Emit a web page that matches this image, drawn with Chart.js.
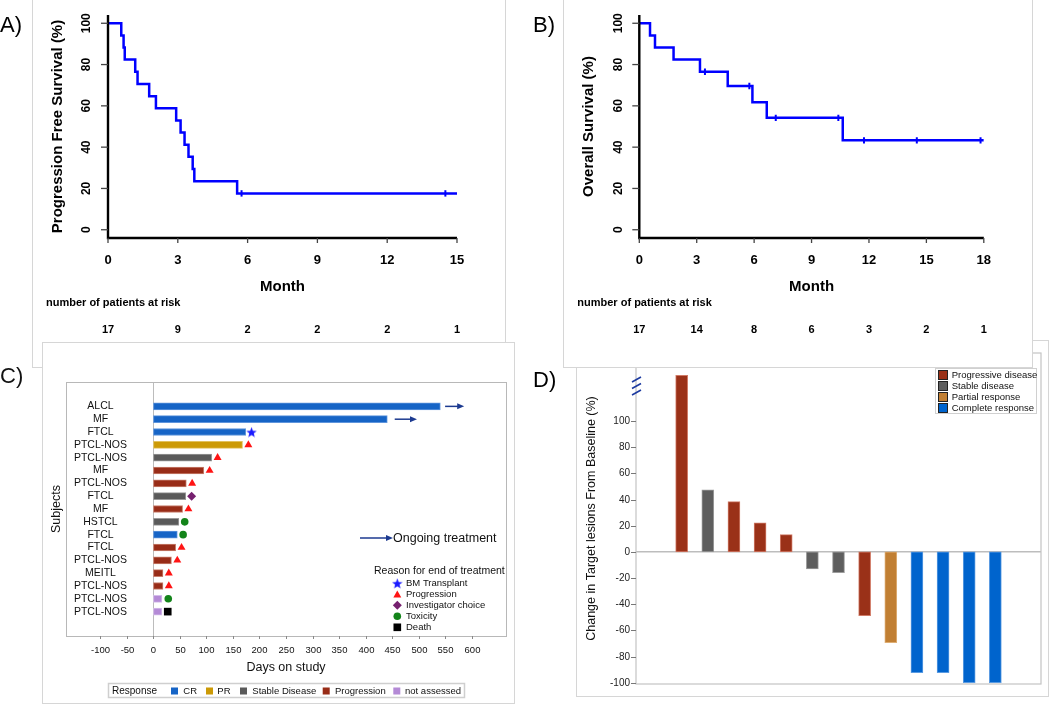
<!DOCTYPE html>
<html>
<head>
<meta charset="utf-8">
<script src="https://cdn.jsdelivr.net/npm/chart.js@4.4.1/dist/chart.umd.min.js"></script>
<style>
  body { margin: 0; background: #fff; }
  #wrap { position: relative; width: 1050px; height: 706px; overflow: hidden; }
  .box { position: absolute; border: 1px solid #d6d6d6; background: #fff; box-sizing: border-box; }
  canvas { position: absolute; left: 0; top: 0; }
</style>
</head>
<body>
<div id="wrap">
  <div class="box" style="left:32px;top:-2px;width:474px;height:370px;z-index:1"></div>
  <canvas id="pfs" width="1050" height="706" style="z-index:2"></canvas>
  <div class="box" style="left:42px;top:342px;width:473px;height:362px;z-index:3"></div>
  <canvas id="swim" width="1050" height="706" style="z-index:4"></canvas>
  <div class="box" style="left:576px;top:340px;width:473px;height:357px;z-index:5"></div>
  <canvas id="waterfall" width="1050" height="706" style="z-index:6"></canvas>
  <div class="box" style="left:563px;top:-2px;width:470px;height:370px;z-index:7"></div>
  <canvas id="os" width="1050" height="706" style="z-index:8"></canvas>
</div>
<script>
// --- data: A) progression free survival ---
const pfsMonths   = [0, 0.57, 0.67, 0.72, 1.17, 1.27, 1.77, 2.06, 2.93, 3.12, 3.29, 3.46, 3.64, 3.71, 5.55, 15];
const pfsSurvival = [100, 94.1, 88.2, 82.4, 76.5, 70.6, 64.7, 58.8, 52.9, 47.1, 41.2, 35.3, 29.4, 23.5, 17.6, 17.6];
const pfsCensorMonths   = [5.74, 14.5];
const pfsCensorSurvival = [17.6, 17.6];
const pfsRiskMonths = [0, 3, 6, 9, 12, 15];
const pfsAtRisk     = [17, 9, 2, 2, 2, 1];

// --- data: B) overall survival ---
const osMonths   = [0, 0.56, 0.82, 1.79, 3.17, 4.62, 5.91, 6.66, 10.63, 18];
const osSurvival = [100, 94.1, 88.2, 82.4, 76.5, 69.6, 61.8, 54.2, 43.3, 43.3];
const osCensorMonths   = [3.43, 5.75, 7.13, 10.4, 11.74, 14.5, 17.83];
const osCensorSurvival = [76.5, 69.6, 54.2, 54.2, 43.3, 43.3, 43.3];
const osRiskMonths = [0, 3, 6, 9, 12, 15, 18];
const osAtRisk     = [17, 14, 8, 6, 3, 2, 1];

const survivalTicks = [0, 20, 40, 60, 80, 100];

// --- data: C) swimmer plot ---
const subjects = ['ALCL', 'MF', 'FTCL', 'PTCL-NOS', 'PTCL-NOS', 'MF', 'PTCL-NOS', 'FTCL', 'MF',
                  'HSTCL', 'FTCL', 'FTCL', 'PTCL-NOS', 'MEITL', 'PTCL-NOS', 'PTCL-NOS', 'PTCL-NOS'];
const daysOnStudy = [541, 441, 174, 168, 110, 95, 62, 61, 55, 48, 45, 42, 34, 18, 18, 16, 16];
const responses   = ['CR', 'CR', 'CR', 'PR', 'SD', 'PD', 'PD', 'SD', 'PD', 'SD', 'CR', 'PD', 'PD', 'PD', 'PD', 'NA', 'NA'];
const endReasons  = [null, null, 'BM Transplant', 'Progression', 'Progression', 'Progression', 'Progression',
                     'Investigator choice', 'Progression', 'Toxicity', 'Toxicity', 'Progression', 'Progression',
                     'Progression', 'Progression', 'Toxicity', 'Death'];
const endDays     = [null, null, 185, 179, 121, 106, 73, 72, 66, 59, 56, 53, 45, 29, 29, 28, 27];
const ongoingRows = [0, 1];
const ongoingFrom = [550, 455];
const ongoingTo   = [586, 497];
const dayTicks = [-100, -50, 0, 50, 100, 150, 200, 250, 300, 350, 400, 450, 500, 550, 600];
const responseKeys   = ['CR', 'PR', 'SD', 'PD', 'NA'];
const responseLabels = ['CR', 'PR', 'Stable Disease', 'Progression', 'not assessed'];
const reasonLabels   = ['BM Transplant', 'Progression', 'Investigator choice', 'Toxicity', 'Death'];

// --- data: D) waterfall (first bar shown at its broken-axis height) ---
const lesionChange   = [135, 47.5, 38.4, 22.1, 13.2, -13, -16, -48.8, -69.4, -92.3, -92.3, -100, -100];
const lesionResponse = ['PD', 'SD', 'PD', 'PD', 'PD', 'SD', 'SD', 'PD', 'PR', 'CR', 'CR', 'CR', 'CR'];
const changeTicks = [-100, -80, -60, -40, -20, 0, 20, 40, 60, 80, 100];
const waterfallKeys   = ['PD', 'SD', 'PR', 'CR'];
const waterfallLabels = ['Progressive disease', 'Stable disease', 'Partial response', 'Complete response'];

// --- styles ---
const FONT = "'Liberation Sans', Arial, sans-serif";
const swimFill = { CR: '#1664c6', PR: '#cc9a06', SD: '#5a5a5a', PD: '#982c17', NA: '#b48ad6' };
const swimEdge = { CR: '#5f95dc', PR: '#e2c25e', SD: '#9a9a9a', PD: '#c9806f', NA: '#d4bdea' };
const wfFill = { PD: '#9a3118', SD: '#5e5e5e', PR: '#c17f33', CR: '#0064cd' };
const wfEdge = { PD: '#d07a66', SD: '#9c9c9c', PR: '#deae74', CR: '#5a9be2' };
const ARROW = '#1c3a90';

function starCanvas(size, color) {
  const c = document.createElement('canvas');
  c.width = c.height = size;
  const g = c.getContext('2d');
  const r = size / 2, ri = r * 0.42;
  g.beginPath();
  for (let i = 0; i < 10; i++) {
    const ang = -Math.PI / 2 + i * Math.PI / 5;
    const rr = i % 2 ? ri : r;
    g.lineTo(r + rr * Math.cos(ang), r + 0.6 + rr * Math.sin(ang));
  }
  g.closePath();
  g.fillStyle = color;
  g.fill();
  return c;
}
const star = starCanvas(11, '#1a1aff');
const reasonStyle = {
  'BM Transplant':       { style: star, color: '#1a1aff', r: 5.5 },
  'Progression':         { style: 'triangle', color: '#ff1414', r: 4.6 },
  'Investigator choice': { style: 'rectRot', color: '#76206f', r: 4.5 },
  'Toxicity':            { style: 'circle', color: '#13841a', r: 3.8 },
  'Death':               { style: 'rect', color: '#000000', r: 5.4 }
};

function drawMarker(ctx, s, x, y) {
  ctx.fillStyle = s.color;
  ctx.beginPath();
  if (s.style === star) { ctx.drawImage(star, x - 5.5, y - 5.5); return; }
  if (s.style === 'triangle') {
    ctx.moveTo(x, y - s.r); ctx.lineTo(x + 0.866 * s.r, y + 0.5 * s.r); ctx.lineTo(x - 0.866 * s.r, y + 0.5 * s.r);
  } else if (s.style === 'rectRot') {
    ctx.moveTo(x, y - s.r); ctx.lineTo(x + s.r, y); ctx.lineTo(x, y + s.r); ctx.lineTo(x - s.r, y);
  } else if (s.style === 'circle') {
    ctx.arc(x, y, s.r, 0, Math.PI * 2);
  } else {
    const h = s.r * Math.SQRT1_2; ctx.rect(x - h, y - h, 2 * h, 2 * h);
  }
  ctx.closePath();
  ctx.fill();
}

function arrow(ctx, x1, y, x2) {
  ctx.strokeStyle = ARROW; ctx.fillStyle = ARROW; ctx.lineWidth = 1.5;
  ctx.beginPath(); ctx.moveTo(x1, y); ctx.lineTo(x2 - 5, y); ctx.stroke();
  ctx.beginPath(); ctx.moveTo(x2, y); ctx.lineTo(x2 - 7, y - 3); ctx.lineTo(x2 - 7, y + 3); ctx.closePath(); ctx.fill();
}

function line(ctx, x1, y1, x2, y2) {
  ctx.beginPath(); ctx.moveTo(x1, y1); ctx.lineTo(x2, y2); ctx.stroke();
}

// --- Kaplan-Meier panels (R style axes) ---
const kmAxes = {
  id: 'kmAxes',
  afterDraw(chart) {
    const o = chart.options.plugins.kmAxes;
    const { ctx, chartArea: a, scales: { x, y } } = chart;
    ctx.save();
    ctx.strokeStyle = '#000'; ctx.lineWidth = 2.4;
    ctx.beginPath(); ctx.moveTo(a.left, a.top); ctx.lineTo(a.left, a.bottom); ctx.lineTo(a.right, a.bottom); ctx.stroke();

    ctx.fillStyle = '#000'; ctx.textAlign = 'center'; ctx.textBaseline = 'middle';
    ctx.strokeStyle = '#444'; ctx.lineWidth = 1.3;
    ctx.font = 'bold 12px ' + FONT;
    survivalTicks.forEach(v => {
      const py = y.getPixelForValue(v);
      line(ctx, a.left - 7, py, a.left, py);
      ctx.save(); ctx.translate(a.left - 21, py); ctx.rotate(-Math.PI / 2); ctx.fillText(String(v), 0, 0); ctx.restore();
    });
    ctx.font = 'bold 13px ' + FONT;
    o.xTicks.forEach(v => {
      const px = x.getPixelForValue(v);
      line(ctx, px, a.bottom, px, a.bottom + 5);
      ctx.fillText(String(v), px, a.bottom + 22);
    });
    ctx.font = 'bold 15px ' + FONT;
    ctx.fillText('Month', (a.left + a.right) / 2, a.bottom + 49);
    ctx.save(); ctx.translate(a.left - 50, y.getPixelForValue(50)); ctx.rotate(-Math.PI / 2);
    ctx.fillText(o.yTitle, 0, 0); ctx.restore();

    ctx.font = 'bold 11px ' + FONT; ctx.textAlign = 'left';
    ctx.fillText('number of patients at risk', a.left - 62, a.bottom + 65);
    ctx.textAlign = 'center';
    o.riskMonths.forEach((m, i) => ctx.fillText(String(o.atRisk[i]), x.getPixelForValue(m), a.bottom + 92));

    ctx.font = '22px ' + FONT; ctx.textAlign = 'left';
    ctx.fillText(o.panel, o.panelX, 26);
    ctx.restore();
  }
};

function kmChart(id, months, surv, cMonths, cSurv, xMax, riskMonths, atRisk, title, panel, panelX, left) {
  const xRight = left + (id === 'pfs' ? 349 : 344.5);
  return new Chart(document.getElementById(id), {
    type: 'line',
    data: {
      datasets: [{
        data: months.map((m, i) => ({ x: m, y: surv[i] })),
        stepped: 'before', borderColor: '#0000ff', borderWidth: 2.5, pointRadius: 0, fill: false
      }, {
        data: cMonths.map((m, i) => ({ x: m, y: cSurv[i] })),
        showLine: false, pointStyle: 'line', rotation: 90, pointRadius: 3.2,
        pointBorderColor: '#0000ff', pointBackgroundColor: '#0000ff', pointBorderWidth: 2
      }]
    },
    options: {
      responsive: false, animation: false, events: [],
      layout: { padding: { left: left, right: 1050 - xRight, top: 15, bottom: 706 - 238 } },
      scales: {
        x: { type: 'linear', min: 0, max: xMax, display: false },
        y: { type: 'linear', min: -4, max: 104, display: false }
      },
      plugins: {
        legend: { display: false }, tooltip: { enabled: false },
        kmAxes: { xTicks: riskMonths, riskMonths: riskMonths, atRisk: atRisk, yTitle: title, panel: panel, panelX: panelX }
      }
    },
    plugins: [kmAxes]
  });
}

kmChart('pfs', pfsMonths, pfsSurvival, pfsCensorMonths, pfsCensorSurvival, 15,
        pfsRiskMonths, pfsAtRisk, 'Progression Free Survival (%)', 'A)', 0, 108);
kmChart('os', osMonths, osSurvival, osCensorMonths, osCensorSurvival, 18,
        osRiskMonths, osAtRisk, 'Overall Survival (%)', 'B)', 533, 639.3);

// --- C) swimmer plot ---
const swimDecor = {
  id: 'swimDecor',
  beforeDatasetsDraw(chart) {
    const { ctx, chartArea: a, scales: { x } } = chart;
    ctx.save();
    ctx.strokeStyle = '#bcbcbc'; ctx.lineWidth = 1;
    const x0 = Math.round(x.getPixelForValue(0)) + 0.5;
    line(ctx, x0, a.top, x0, a.bottom);
    ctx.restore();
  },
  afterDraw(chart) {
    const { ctx, chartArea: a, scales: { x, y } } = chart;
    ctx.save();
    ctx.strokeStyle = '#b8b8b8'; ctx.lineWidth = 1;
    ctx.strokeRect(Math.round(a.left) + 0.5, Math.round(a.top) + 0.5, Math.round(a.right - a.left), Math.round(a.bottom - a.top));
    ctx.fillStyle = '#111'; ctx.textAlign = 'center'; ctx.textBaseline = 'middle';
    ctx.font = '9.5px ' + FONT;
    ctx.strokeStyle = '#888';
    dayTicks.forEach(v => {
      const px = Math.round(x.getPixelForValue(v)) + 0.5;
      line(ctx, px, a.bottom, px, a.bottom + 3);
      ctx.fillText(String(v), px, a.bottom + 14);
    });
    ctx.font = '10.5px ' + FONT;
    subjects.forEach((s, i) => ctx.fillText(s, 100.5, y.getPixelForValue(i)));
    ctx.font = '12.5px ' + FONT;
    ctx.fillText('Days on study', (a.left + a.right) / 2, a.bottom + 32);
    ctx.save(); ctx.translate(57, (a.top + a.bottom) / 2); ctx.rotate(-Math.PI / 2);
    ctx.fillText('Subjects', 0, 0); ctx.restore();

    ongoingRows.forEach((r, i) => arrow(ctx, x.getPixelForValue(ongoingFrom[i]), y.getPixelForValue(r), x.getPixelForValue(ongoingTo[i])));

    // ongoing legend
    arrow(ctx, 360, 538, 393);
    ctx.fillStyle = '#111'; ctx.textAlign = 'left'; ctx.font = '12.5px ' + FONT;
    ctx.fillText('Ongoing treatment', 393, 538.5);

    // reason legend
    ctx.font = '10.5px ' + FONT;
    ctx.fillText('Reason for end of treatment', 374, 571);
    ctx.font = '9.5px ' + FONT;
    reasonLabels.forEach((lab, i) => {
      const yy = 583.3 + i * 11;
      drawMarker(ctx, reasonStyle[lab], 397.3, yy + (lab === 'Progression' ? 0.8 : 0));
      ctx.fillStyle = '#111';
      ctx.fillText(lab, 406, yy + 0.5);
    });

    // response legend
    ctx.strokeStyle = '#cfcfcf';
    ctx.strokeRect(108.5, 683.5, 356, 14);
    ctx.fillStyle = '#111'; ctx.font = '10px ' + FONT;
    ctx.fillText('Response', 112, 691);
    const sq = [171, 206, 240, 322.7, 393.3];
    const tx = [183.3, 217.3, 252.3, 335, 405];
    ctx.font = '9.5px ' + FONT;
    responseKeys.forEach((k, i) => {
      ctx.fillStyle = swimFill[k];
      ctx.fillRect(sq[i], 687.5, 7, 7);
      ctx.fillStyle = '#111';
      ctx.fillText(responseLabels[i], tx[i], 691);
    });

    ctx.font = '22px ' + FONT;
    ctx.fillText('C)', 0, 377);
    ctx.restore();
  }
};

const markerRows = endDays.map((d, i) => i).filter(i => endDays[i] !== null);

new Chart(document.getElementById('swim'), {
  type: 'bar',
  data: {
    datasets: [{
      indexAxis: 'y',
      data: daysOnStudy.map((d, i) => ({ x: d, y: i })),
      backgroundColor: responses.map(r => swimFill[r]),
      borderColor: responses.map(r => swimEdge[r]),
      borderWidth: 1, borderSkipped: false, barThickness: 7
    }, {
      type: 'scatter',
      data: markerRows.map(i => ({ x: endDays[i], y: i })),
      pointStyle: markerRows.map(i => reasonStyle[endReasons[i]].style),
      pointRadius: markerRows.map(i => reasonStyle[endReasons[i]].r),
      pointBackgroundColor: markerRows.map(i => reasonStyle[endReasons[i]].color),
      pointBorderColor: markerRows.map(i => reasonStyle[endReasons[i]].color),
      pointBorderWidth: 0
    }]
  },
  options: {
    responsive: false, animation: false, events: [],
    layout: { padding: { left: 66, right: 1050 - 506, top: 382, bottom: 706 - 636 } },
    scales: {
      x: { type: 'linear', min: -113, max: 613, display: false },
      y: { type: 'linear', min: -0.8, max: 16.8, reverse: true, display: false }
    },
    plugins: { legend: { display: false }, tooltip: { enabled: false } }
  },
  plugins: [swimDecor]
});

// --- D) waterfall ---
const wfDecor = {
  id: 'wfDecor',
  beforeDatasetsDraw(chart) {
    const { ctx, chartArea: a, scales: { y } } = chart;
    ctx.save();
    ctx.strokeStyle = '#bdbdbd'; ctx.lineWidth = 1.5;
    const y0 = y.getPixelForValue(0);
    line(ctx, a.left, y0, a.right, y0);
    ctx.restore();
  },
  afterDraw(chart) {
    const { ctx, chartArea: a, scales: { y } } = chart;
    ctx.save();
    ctx.strokeStyle = '#c4c4c4'; ctx.lineWidth = 1.2;
    ctx.strokeRect(a.left, a.top, a.right - a.left, a.bottom - a.top);
    ctx.fillStyle = '#222'; ctx.textAlign = 'right'; ctx.textBaseline = 'middle';
    ctx.font = '10px ' + FONT; ctx.strokeStyle = '#777'; ctx.lineWidth = 1;
    changeTicks.forEach(v => {
      const py = Math.round(y.getPixelForValue(v)) + 0.5;
      line(ctx, a.left - 5, py, a.left, py);
      ctx.fillText(String(v), a.left - 6, py);
    });
    ctx.textAlign = 'center'; ctx.font = '12.5px ' + FONT; ctx.fillStyle = '#111';
    ctx.save(); ctx.translate(592, (a.top + a.bottom) / 2); ctx.rotate(-Math.PI / 2);
    ctx.fillText('Change in Target lesions From Baseline (%)', 0, 0); ctx.restore();

    // axis break
    ctx.strokeStyle = '#1c3aa0'; ctx.lineWidth = 1.6;
    [379.5, 386, 392.5].forEach(yy => line(ctx, a.left - 4, yy + 2.5, a.left + 5, yy - 2.5));

    // legend
    ctx.fillStyle = '#fff'; ctx.fillRect(935, 368, 102, 46);
    ctx.strokeStyle = '#d0d0d0'; ctx.lineWidth = 1;
    ctx.strokeRect(935.5, 368.5, 101, 45);
    ctx.textAlign = 'left'; ctx.font = '9.5px ' + FONT;
    waterfallKeys.forEach((k, i) => {
      const yy = 375 + i * 11;
      ctx.fillStyle = wfFill[k]; ctx.fillRect(938.5, yy - 4.5, 9, 9);
      ctx.strokeStyle = '#222'; ctx.strokeRect(938.5, yy - 4.5, 9, 9);
      ctx.fillStyle = '#111'; ctx.fillText(waterfallLabels[i], 951.7, yy + 0.5);
    });

    ctx.font = '22px ' + FONT; ctx.fillStyle = '#000';
    ctx.fillText('D)', 533, 381);
    ctx.restore();
  }
};

new Chart(document.getElementById('waterfall'), {
  type: 'bar',
  data: {
    datasets: [{
      data: lesionChange.map((v, i) => ({ x: i, y: v })),
      backgroundColor: lesionResponse.map(r => wfFill[r]),
      borderColor: lesionResponse.map(r => wfEdge[r]),
      borderWidth: 1, borderSkipped: false, barThickness: 12
    }]
  },
  options: {
    responsive: false, animation: false, events: [],
    layout: { padding: { left: 636, right: 1050 - 1041, top: 353, bottom: 706 - 684 } },
    scales: {
      x: { type: 'linear', min: -0.64, max: 12.64, display: false },
      y: { type: 'linear', min: -101, max: 152, display: false }
    },
    plugins: { legend: { display: false }, tooltip: { enabled: false } }
  },
  plugins: [wfDecor]
});
</script>
</body>
</html>
